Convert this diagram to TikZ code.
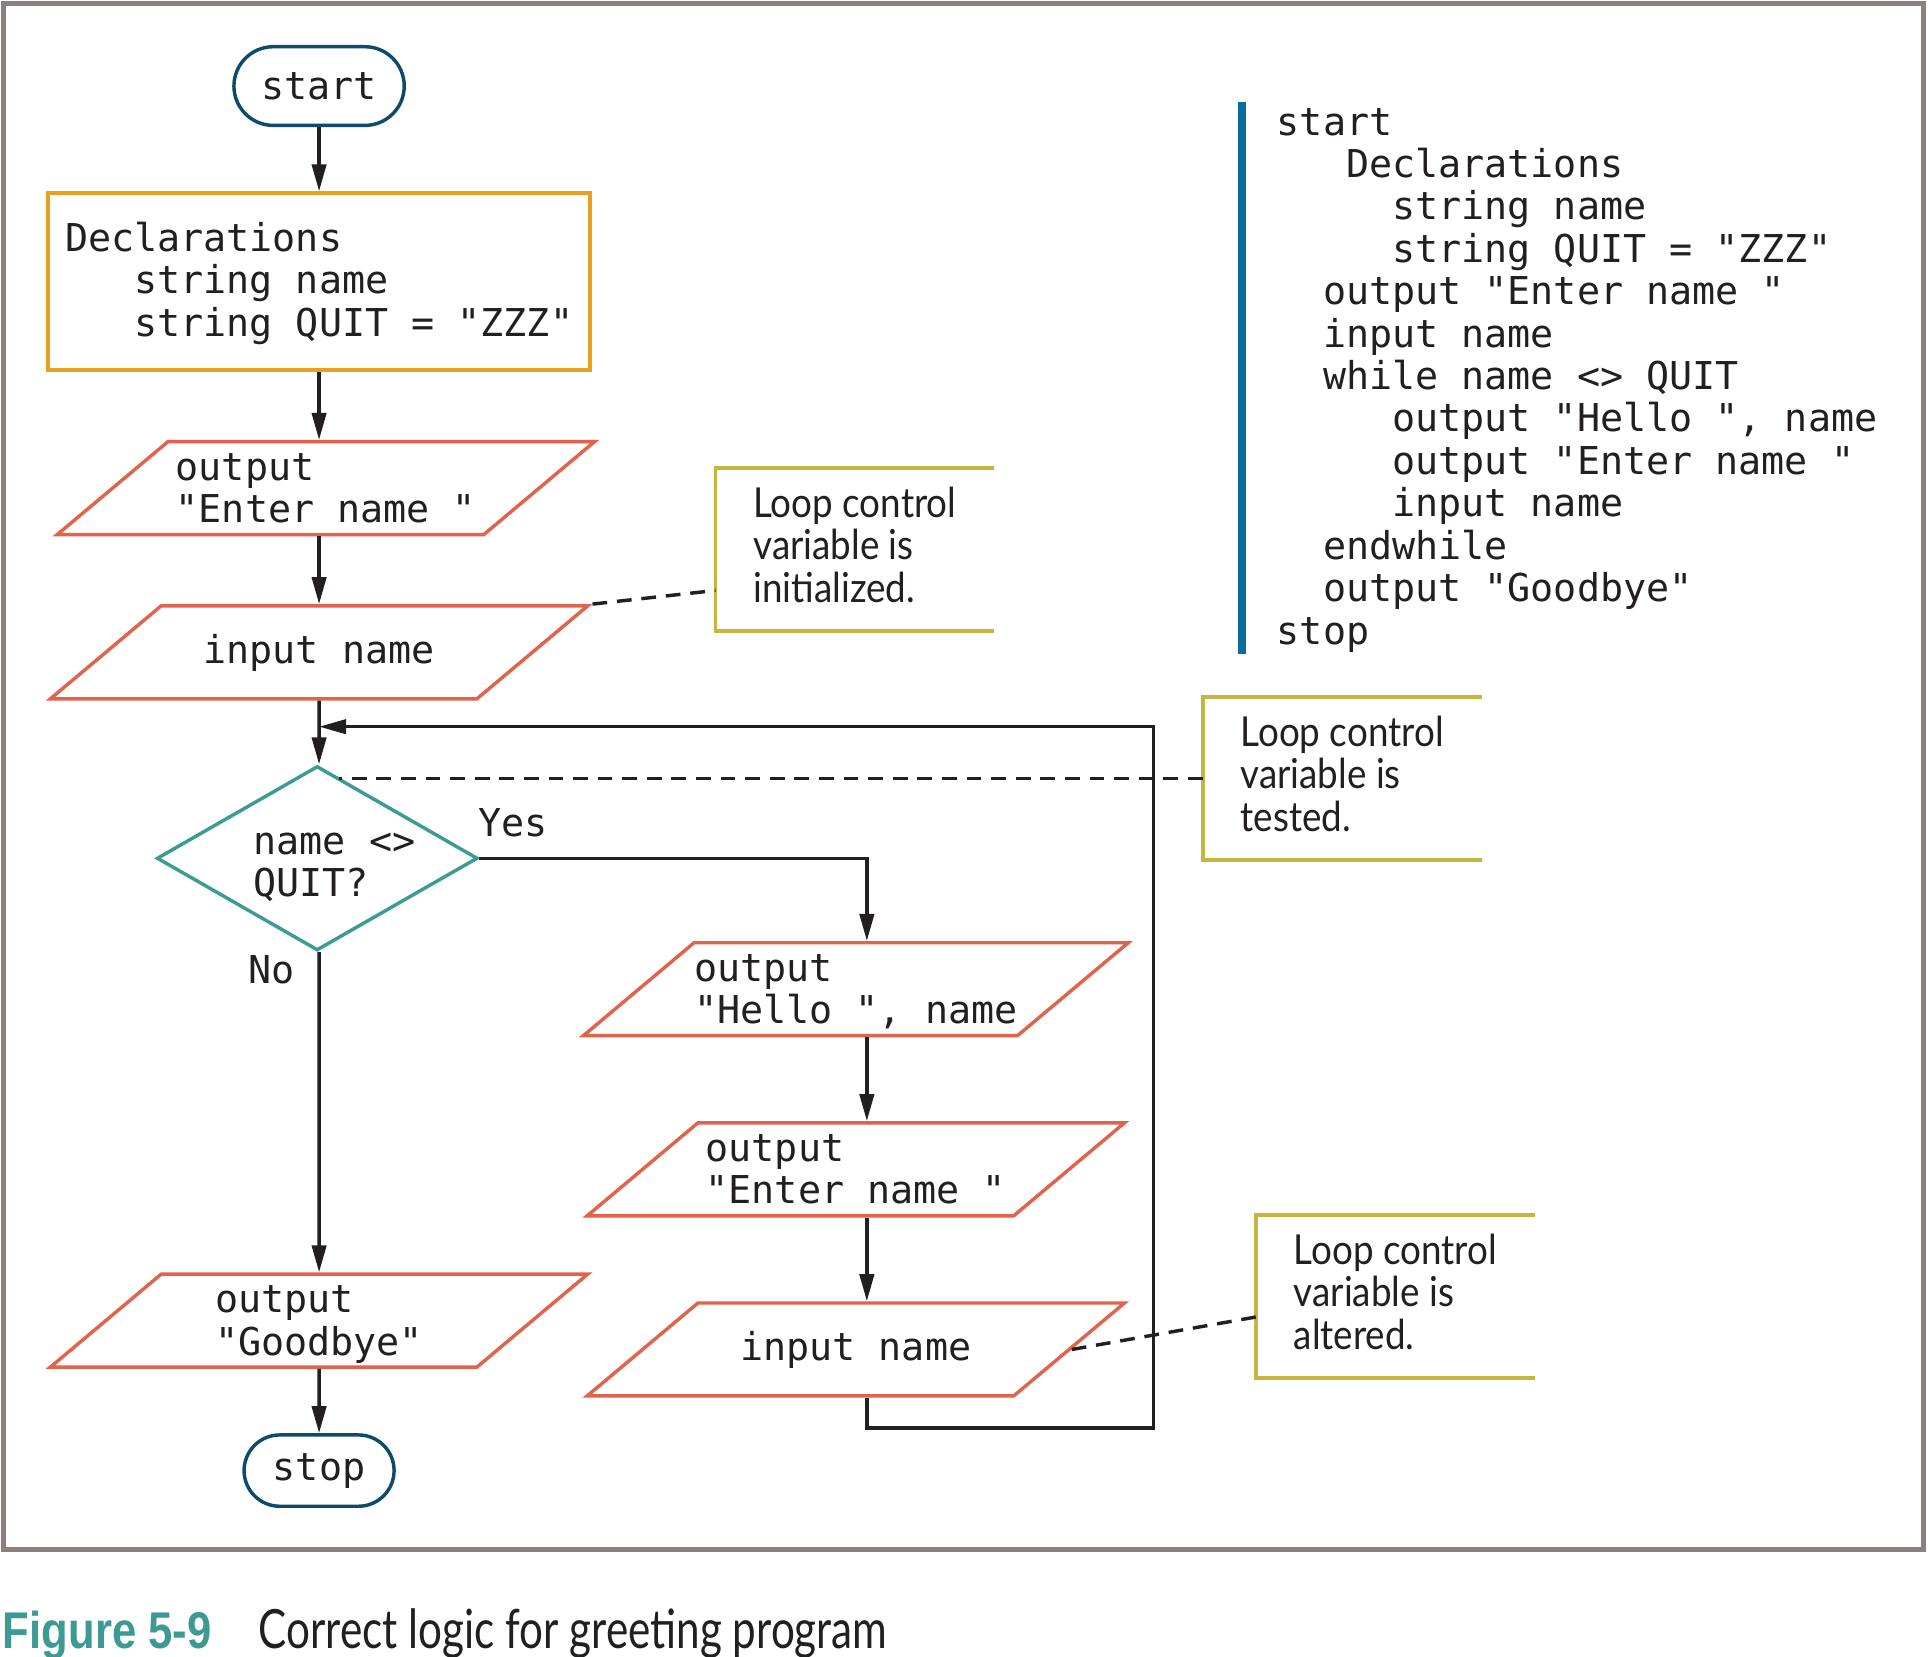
\documentclass[tikz,border=0pt]{standalone}
\usepackage{fontspec}
\setmonofont{DejaVu Sans Mono}
\newfontfamily\notefont[FakeStretch=0.89]{Lato}
\newfontfamily\capfont[FakeStretch=0.78]{Lato}
\newfontfamily\figfont[FakeStretch=0.845]{Liberation Sans}
\usetikzlibrary{arrows.meta, shapes.geometric, calc}

\definecolor{framegray}{RGB}{141,127,123}
\definecolor{termblue}{RGB}{13,74,107}
\definecolor{declorange}{RGB}{233,160,32}
\definecolor{iored}{RGB}{226,99,75}
\definecolor{decteal}{RGB}{59,156,148}
\definecolor{noteolive}{RGB}{197,182,64}
\definecolor{barblue}{RGB}{10,108,156}
\definecolor{capteal}{RGB}{60,154,147}
\definecolor{inkdark}{RGB}{35,31,32}

\newcommand{\pad}[1]{\hspace*{#1\fontcharwd\font`x}}

\tikzset{
  code/.style={font=\ttfamily\fontsize{15.6pt}{17.25pt}\selectfont, align=left, inner sep=0pt, text=inkdark},
  term/.style={code, draw=termblue, line width=1.4pt, rounded corners=16pt, minimum width=69.25pt, minimum height=32pt},
  decl/.style={code, draw=declorange, line width=1.4pt, minimum width=220.5pt, minimum height=72pt, text depth=2pt},
  io/.style={code, draw=iored, line width=1.4pt, trapezium, trapezium left angle=40, trapezium right angle=140, trapezium stretches body, minimum width=218.5pt, text height=32.9pt, text depth=4.9pt},
  io one/.style={io, text height=23.5pt, text depth=14.3pt},
  decision/.style={code, draw=decteal, line width=1.4pt, diamond, aspect=1.74, minimum width=130.5pt, minimum height=75pt, text height=32pt, text depth=0.5pt},
  note/.style={font=\notefont\fontsize{16.8pt}{17.25pt}\selectfont, align=left, inner sep=0pt, text=inkdark, text depth=4pt, minimum width=113pt, minimum height=66pt},
  notebox/.style={draw=noteolive, line width=1.5pt},
  flow/.style={draw=inkdark, line width=1.4pt, -{Triangle[length=11pt, width=5.8pt]}},
  noteline/.style={draw=inkdark, line width=1.4pt, dash pattern=on 6pt off 4pt},
}

\begin{document}
\begin{tikzpicture}[x=0.5pt, y=-0.5pt]
  \useasboundingbox (0,0) rectangle (1568,1347.6);
  \draw[framegray, line width=2pt] (2.5,2.5) rectangle (1564,1260);

  % main column
  \node[term] (start) at (259.5,70) {start};
  \node[decl] (dec) at (259.5,229) {Declarations\\\pad{3}string name\\\pad{3}string QUIT = "ZZZ"};
  \node[io] (out1) at (265,397) {output\\"Enter name "};
  \node[io one] (in1) at (259.5,530.5) {input name};
  \node[decision] (dia) at (258,698) {name <>\hspace*{-14pt}\\QUIT?};
  \node[io] (out3) at (259.5,1074) {output\\"Goodbye"};
  \node[term, minimum width=61pt, minimum height=29pt, rounded corners=14.5pt] (stop) at (259.5,1196) {stop};
  \node[code, anchor=base west] (yes) at (389,680.5) {Yes};
  \node[code, anchor=base west] (no) at (202,800) {No};

  % loop body
  \node[io] (hello) at (696,804.5) {output\\"Hello ", name};
  \node[io] (out2) at (696,951) {output\\"Enter name "};
  \node[io one] (in2) at (696,1097.5) {input name};
  \coordinate (col) at (705,0);
  \coordinate (loopR) at (938,1161.5);
  \coordinate (back) at (259.5,591);

  \draw[flow] (start) -- (dec);
  \draw[flow] (dec.south) -- (dec.south |- out1.north);
  \draw[flow] (out1.south -| in1.north) -- (in1.north);
  \draw[flow] (in1) -- (in1 |- dia.north);
  \draw[flow] (in1 |- dia.south) -- (out3);
  \draw[flow] (out3) -- (stop);
  \draw[flow] (dia.east) -| (col |- hello.north);
  \draw[flow] (hello.south -| col) -- (col |- out2.north);
  \draw[flow] (out2.south -| col) -- (col |- in2.north);
  \draw[flow] (in2.south -| col) |- (loopR) |- (back);

  % notes
  \node[note] (ann1) at (695.25,447) {Loop control\\variable is\\initialized.};
  \node[note] (ann2) at (1091.5,633.2) {Loop control\\variable is\\tested.};
  \node[note] (ann3) at (1134.75,1054.5) {Loop control\\variable is\\altered.};
  \foreach \n in {ann1, ann2, ann3}
    \draw[notebox] (\n.north east) -- (\n.north west) -- (\n.south west) -- (\n.south east);
  \draw[noteline] (in1.top right corner) -- ($(ann1.south west)!0.25!(ann1.north west)$);
  \draw[noteline] (ann2.west) -- (ann2.west -| dia.75);
  \draw[noteline] (in2.right side) -- ($(ann3.south west)!0.375!(ann3.north west)$);

  % pseudocode
  \draw[barblue, line width=3pt] (1010,83) -- (1010,531.7);
  \node[code, anchor=base west] (listing) at (1038,523.8) {start\\
    \pad{3}Declarations\\
    \pad{5}string name\\
    \pad{5}string QUIT = "ZZZ"\\
    \pad{2}output "Enter name "\\
    \pad{2}input name\\
    \pad{2}while name <> QUIT\\
    \pad{5}output "Hello ", name\\
    \pad{5}output "Enter name "\\
    \pad{5}input name\\
    \pad{2}endwhile\\
    \pad{2}output "Goodbye"\\
    stop};

  % caption
  \node[font=\figfont\bfseries\fontsize{21pt}{24pt}\selectfont, text=capteal, anchor=base west, inner sep=0pt] (fig) at (2,1341) {Figure 5-9};
  \node[font=\capfont\fontsize{22pt}{24pt}\selectfont, text=inkdark, anchor=base west, inner sep=0pt] (title) at (210,1341) {Correct logic for greeting program};
\end{tikzpicture}
\end{document}
